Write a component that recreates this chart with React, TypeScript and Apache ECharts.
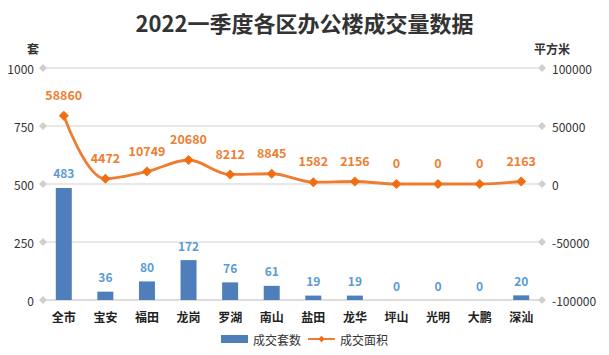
import React, { useEffect, useRef } from "react";
import * as echarts from "echarts";

const categories = ["全市", "宝安", "福田", "龙岗", "罗湖", "南山", "盐田", "龙华", "坪山", "光明", "大鹏", "深汕"];
const deals = [483, 36, 80, 172, 76, 61, 19, 19, 0, 0, 0, 20];
const area = [58860, 4472, 10749, 20680, 8212, 8845, 1582, 2156, 0, 0, 0, 2163];
const leftTicks = [0, 250, 500, 750, 1000];

const FONT = "'Microsoft YaHei', 'Noto Sans CJK SC', sans-serif";

export default function App() {
  const ref = useRef<HTMLDivElement>(null);
  useEffect(() => {
    if (!ref.current) return;
    const chart = echarts.init(ref.current, null, { renderer: "svg" });
    const diamonds: number[][] = [];
    leftTicks.forEach((t) => {
      diamonds.push([0, t]);
      diamonds.push([1, t]);
    });
    chart.setOption({
      animation: false,
      backgroundColor: "#fff",
      textStyle: { fontFamily: FONT },
      title: {
        text: "2022一季度各区办公楼成交量数据",
        left: "center",
        top: 6,
        textStyle: { fontSize: 22, fontWeight: "bold", color: "#333", fontFamily: FONT },
      },
      legend: {
        bottom: 5,
        left: "center",
        itemGap: 6,
        itemWidth: 27,
        itemHeight: 8,
        textStyle: { fontSize: 12, color: "#333", fontFamily: FONT },
        data: [
          { name: "成交套数", icon: "rect" },
          { name: "成交面积" },
        ],
      },
      grid: { left: 43, right: 67, top: 68, bottom: 55, containLabel: false },
      xAxis: [
        {
          type: "category",
          data: categories,
          axisTick: { show: false },
          axisLine: { lineStyle: { color: "#d9d9d9", width: 1.5 } },
          axisLabel: { color: "#222", fontSize: 12, fontWeight: "bold", margin: 10 },
        },
        {
          type: "value",
          min: 0,
          max: 1,
          show: false,
        },
      ],
      yAxis: [
        {
          type: "value",
          name: "套",
          nameLocation: "end",
          nameGap: 14,
          nameTextStyle: { fontSize: 12, fontWeight: "bold", color: "#333", padding: [0, 20, 0, 0] },
          min: 0,
          max: 1000,
          interval: 250,
          axisLine: { show: false },
          axisTick: { show: false },
          axisLabel: { color: "#333", fontSize: 12, margin: 9, formatter: (v: number) => String(v) },
          splitLine: { lineStyle: { color: "#e0e0e0", width: 1.5 } },
        },
        {
          type: "value",
          name: "平方米",
          nameLocation: "end",
          nameGap: 14,
          nameTextStyle: { fontSize: 12, fontWeight: "bold", color: "#333", padding: [0, 0, 0, 20] },
          min: -100000,
          max: 100000,
          interval: 50000,
          axisLine: { show: false },
          axisTick: { show: false },
          axisLabel: { color: "#333", fontSize: 12, margin: 10, formatter: (v: number) => String(v) },
          splitLine: { show: false },
        },
      ],
      series: [
        {
          name: "成交套数",
          type: "bar",
          data: deals,
          barWidth: 16,
          itemStyle: { color: "#4f7fbb" },
          label: {
            show: true,
            position: "top",
            distance: 9,
            color: "#5b9bd5",
            fontSize: 12,
            fontWeight: "bold",
          },
        },
        {
          name: "成交面积",
          type: "line",
          yAxisIndex: 1,
          data: area,
          smooth: 0.35,
          symbol: "diamond",
          symbolSize: 10,
          itemStyle: { color: "#f26d0f" },
          lineStyle: { color: "#ed7d31", width: 2.8 },
          label: {
            show: true,
            position: "top",
            distance: 10,
            color: "#ed7d31",
            fontSize: 12.5,
            fontWeight: "bold",
          },
        },
        {
          name: "ticks",
          type: "scatter",
          xAxisIndex: 1,
          yAxisIndex: 0,
          data: diamonds,
          symbol: "diamond",
          symbolSize: 8,
          clip: false,
          silent: true,
          z: 10,
          itemStyle: { color: "#cfcfcf", opacity: 1 },
          label: { show: false },
        },
      ],
    });
    return () => chart.dispose();
  }, []);
  return (
    <div
      ref={ref}
      style={{ position: "fixed", left: 0, top: 0, width: 609, height: 355 }}
    />
  );
}
